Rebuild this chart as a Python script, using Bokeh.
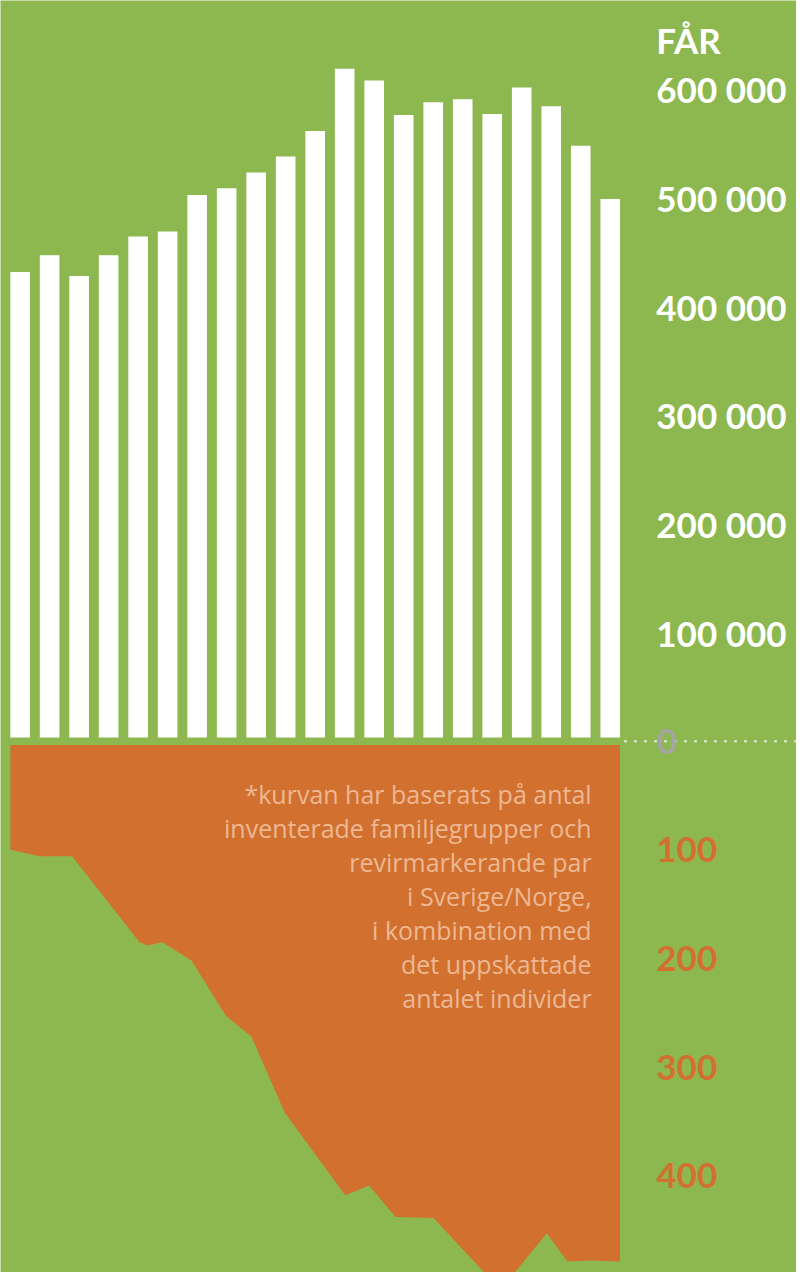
from bokeh.plotting import figure
from bokeh.models import Range1d, ColumnDataSource
from bokeh.core.properties import value
from bokeh.embed import file_html
from bokeh.resources import INLINE

# ---------------- data ----------------
years = list(range(21))  # 21 yearly bars (index positions)
sheep = [431800, 447300, 428200, 447300, 464500, 469100, 502700, 509100,
         523600, 538200, 561800, 619100, 608200, 576400, 588200, 590900,
         577300, 601800, 584500, 548200, 499100]

# wolf curve (position on the same year axis, number of wolves)
wolf_pos = [-0.33, 0.66, 1.76, 4.05, 4.32, 4.82, 5.81, 6.98, 7.84, 8.97,
            11.02, 11.83, 12.72, 14.01, 16.28, 17.85, 18.55, 19.37, 20.33]
wolves = [100, 106, 106, 185, 188, 185, 202, 253, 272, 342,
          418, 409, 438, 439, 505, 453, 479, 478, 479]

sheep_ticks = [100000, 200000, 300000, 400000, 500000, 600000]
sheep_labels = ["100 000", "200 000", "300 000", "400 000", "500 000", "600 000"]
wolf_ticks = [100, 200, 300, 400, 500]
wolf_labels = ["100", "200", "300", "400", "500"]

note_lines = ["*kurvan har baserats på antal",
              "inventerade familjegrupper och",
              "revirmarkerande par",
              "i Sverige/Norge,",
              "i kombination med",
              "det uppskattade",
              "antalet individer"]

# ---------------- styling ----------------
GREEN = "#8DB84F"
ORANGE = "#D2702F"
NOTE = "#EDB893"
GREY = "#A3A6A0"
WOLF_SCALE = 1000      # one wolf drawn as 1000 sheep units
GAP = 3500             # small gap around the zero line

W, H = 796, 1272
REF_W, REF_H = 812, 1288
# mapping from reference-layout pixels into data units
PX_X0, PX_DX = 20.0, 30.1         # bar centre of index 0, pitch
PX_Y0, PX_DY = 750.0, 1.1 / 1000  # zero line, px per sheep unit


def px2x(px):
    return (px - PX_X0) / PX_DX


def px2y(py):
    return (PX_Y0 - py) / PX_DY


p = figure(width=W, height=H, output_backend="svg", toolbar_location=None,
           x_range=Range1d(px2x(0), px2x(REF_W)),
           y_range=Range1d(px2y(REF_H), px2y(0)),
           x_axis_location=None, y_axis_location=None,
           min_border=0, background_fill_color=GREEN,
           border_fill_color=GREEN, outline_line_color=None)
p.grid.visible = False

# bars
bar_src = ColumnDataSource(dict(x=years, top=sheep))
p.vbar(x="x", top="top", bottom=GAP, width=20 / PX_DX, source=bar_src,
       fill_color="white", line_color=None)

# wolf area (hanging down from zero)
xs = [wolf_pos[0]] + wolf_pos + [wolf_pos[-1]]
ys = [-GAP] + [-w * WOLF_SCALE for w in wolves] + [-GAP]
p.patch(xs, ys, fill_color=ORANGE, line_color=None)

# dotted zero line
p.segment(x0=[px2x(636)], y0=[0], x1=[px2x(812)], y1=[0],
          line_color="white", line_alpha=0.6, line_width=2.5, line_dash="3 7")

LBL = dict(text_font=value("Lato"), text_font_style="bold",
           text_font_size="35px", text_baseline="middle")

# right-hand labels
p.text(x=[px2x(669)] * len(sheep_ticks), y=sheep_ticks, text=sheep_labels,
       text_color="white", text_align="left", **LBL)
p.text(x=[px2x(669)], y=[px2y(40)], text=["FÅR"],
       text_color="white", text_align="left", **LBL)
p.text(x=[px2x(680)], y=[0], text=["0"],
       text_color=GREY, text_align="center", **LBL)
p.text(x=[px2x(669)] * len(wolf_ticks), y=[-t * WOLF_SCALE for t in wolf_ticks],
       text=wolf_labels, text_color=ORANGE, text_align="left", **LBL)

# note inside the orange area
note_y = [px2y(803 + 34.5 * k) for k in range(len(note_lines))]
p.text(x=[px2x(603)] * len(note_lines), y=note_y, text=note_lines,
       text_font=value("Open Sans"), text_font_size="25px",
       text_color=NOTE, text_baseline="alphabetic", text_align="right")

open("out.html", "w").write(file_html(p, INLINE))
